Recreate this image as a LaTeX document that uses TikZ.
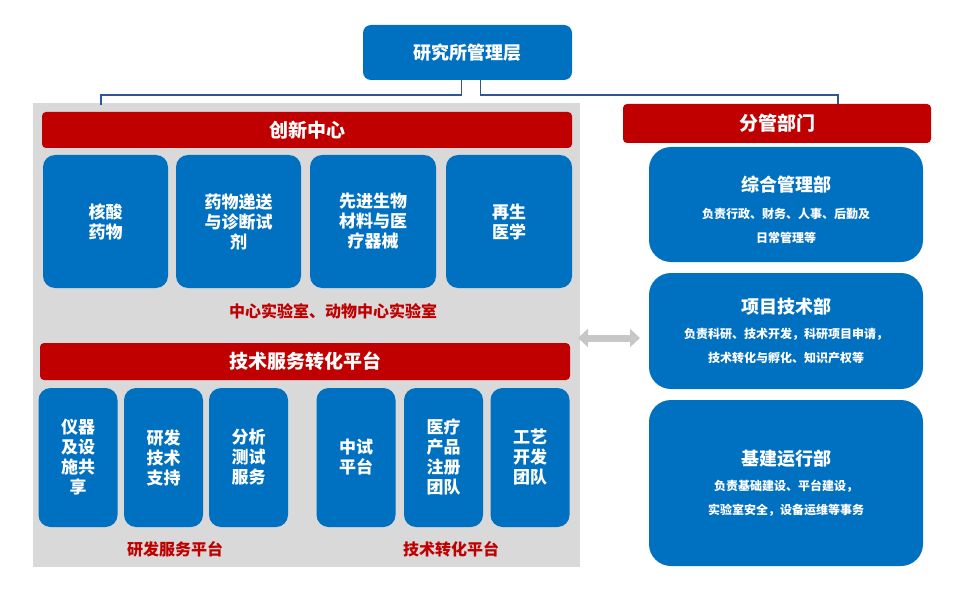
\documentclass[tikz,border=0pt]{standalone}
\usepackage{fontspec}
\setmainfont{Noto Sans CJK SC}
\usetikzlibrary{arrows.meta}
\definecolor{bl}{HTML}{0070C0}
\definecolor{rd}{HTML}{C00000}
\definecolor{gy}{HTML}{D9D9D9}
\definecolor{ln}{HTML}{2F5597}
\tikzset{
 bbox/.style={fill=bl,draw=none,rounded corners=12pt,text=white,font=\bfseries\fontsize{17}{20}\selectfont,align=center},
 rbar/.style={fill=rd,draw=none,rounded corners=4pt,text=white,font=\bfseries\fontsize{19}{22}\selectfont},
 rlab/.style={text=rd,font=\bfseries\fontsize{16}{19}\selectfont},
 conn/.style={draw=ln,line width=1.5pt}
}
\begin{document}
\begin{tikzpicture}[x=1pt,y=-1pt]
\useasboundingbox (0,0) rectangle (969,599);
\fill[gy] (33,103) rectangle (580,567);
\node[bbox,rounded corners=8pt,minimum width=209pt,minimum height=55pt,font=\bfseries\fontsize{18}{20}\selectfont] (top) at (467.5,52.5) {研究所管理层};
\node[rbar,minimum width=530pt,minimum height=36pt] (cx) at (307,130) {创新中心};
\node[rbar,minimum width=308pt,minimum height=39pt] (fg) at (777,123.5) {分管部门};
\coordinate (cl) at (101,105);
\coordinate (cr) at (838,104);
\draw[conn] ([xshift=-6pt]top.south) |- (101,95) -- (cl);
\draw[conn] ([xshift=13pt]top.south) |- (838,95) -- (cr);
% row 1
\node[bbox,minimum width=125pt,minimum height=133pt] (a1) at (105.5,221.5) {核酸\\药物};
\node[bbox,minimum width=125pt,minimum height=133pt] (a2) at (238.5,221.5) {药物递送\\与诊断试\\剂};
\node[bbox,minimum width=126pt,minimum height=133pt] (a3) at (373,221.5) {先进生物\\材料与医\\疗器械};
\node[bbox,minimum width=126pt,minimum height=133pt] (a4) at (509,221.5) {再生\\医学};
\node[rlab] (l1) at (333,311) {中心实验室、动物中心实验室};
\node[rbar,minimum width=530pt,minimum height=37pt] (js) at (305,361.5) {技术服务转化平台};
% row 2
\foreach \n/\x/\t in {b1/78/{仪器\\及设\\施共\\享},b2/163.5/{研发\\技术\\支持},b3/248.5/{分析\\测试\\服务},b4/356/{中试\\平台},b5/443.5/{医疗\\产品\\注册\\团队},b6/530/{工艺\\开发\\团队}}
  \node[bbox,minimum width=79pt,minimum height=139pt] (\n) at (\x,457.5) {\t};
\node[rlab] (l2) at (175,549) {研发服务平台};
\node[rlab] (l3) at (451,549) {技术转化平台};
% right
\tikzset{dbox/.style={bbox,rounded corners=22pt,minimum width=274pt}}
\node[dbox,minimum height=115pt] (d1) at (786,204.5) {};
\node[text=white,align=center,font=\bfseries\fontsize{18}{22}\selectfont] at (786,185) {综合管理部};
\node[text=white,align=center,font=\bfseries\fontsize{12}{24}\selectfont] at (786,226) {负责行政、财务、人事、后勤及\\日常管理等};
\node[dbox,minimum height=116pt] (d2) at (786,331) {};
\node[text=white,align=center,font=\bfseries\fontsize{18}{22}\selectfont] at (786,307) {项目技术部};
\node[text=white,align=center,font=\bfseries\fontsize{12}{24}\selectfont] at (786,346) {负责科研、技术开发，科研项目申请，\\技术转化与孵化、知识产权等};
\node[dbox,minimum height=166pt] (d3) at (786,483) {};
\node[text=white,align=center,font=\bfseries\fontsize{18}{22}\selectfont] at (786,459) {基建运行部};
\node[text=white,align=center,font=\bfseries\fontsize{12}{24}\selectfont] at (786,498) {负责基础建设、平台建设，\\实验室安全，设备运维等事务};
% double arrow
\coordinate (p1) at (578,338);
\coordinate (p2) at (640,338);
\draw[gy!80!gray,line width=7pt,{Triangle[length=10pt,width=18pt]}-{Triangle[length=10pt,width=18pt]}] (p1) -- (p2);
\end{tikzpicture}
\end{document}
